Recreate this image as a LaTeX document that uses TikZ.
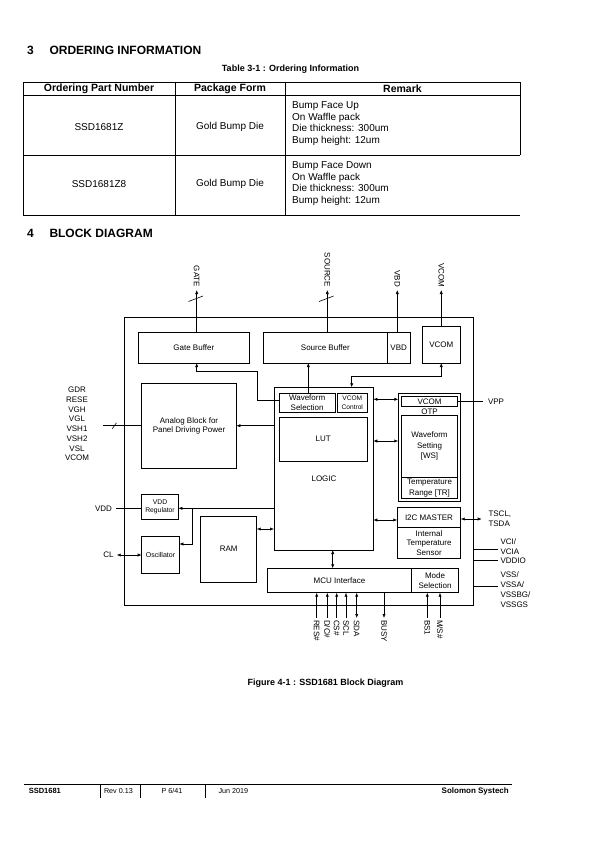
\documentclass[tikz,border=0pt]{standalone}
\usepackage{fontspec}
\setmainfont{Liberation Sans}
\usetikzlibrary{arrows.meta}
\begin{document}
\begin{tikzpicture}[x=1pt,y=-1pt,
  blk/.style={draw, line width=0.6pt, inner sep=0pt, outer sep=0pt, align=center, font=\fontsize{8}{9.7}\selectfont},
  con/.style={line width=0.6pt},
  arr/.style={con,-{Latex[length=4pt,width=3.2pt]}},
  darr/.style={con,{Latex[length=4pt,width=3.2pt]}-{Latex[length=4pt,width=3.2pt]}},
  txt/.style={inner sep=0pt, outer sep=0pt, font=\fontsize{8}{9.7}\selectfont},
  small/.style={inner sep=0pt, outer sep=0pt, align=center, font=\fontsize{6.8}{8.3}\selectfont},
  tline/.style={line width=0.9pt},
  head/.style={inner sep=0pt, anchor=west, font=\fontsize{12}{14}\bfseries\selectfont},
  thead/.style={inner sep=0pt, font=\fontsize{10.5}{12}\bfseries\selectfont},
  tbody/.style={inner sep=0pt, font=\fontsize{10}{11.6}\selectfont},
]
\path[use as bounding box] (0,0) rectangle (595,842);

% ---------- Section 3 ----------
\node[head] (h3n) at (27,50) {3};
\node[head] (h3t) at (49.3,50) {ORDERING INFORMATION};
\node[inner sep=0pt, font=\fontsize{9}{11}\bfseries\selectfont] (tcap) at (290.5,69) {Table 3-1 : Ordering Information};

\draw[tline] (23,82) -- (520,82);
\draw[tline] (23,95) -- (520,95);
\draw[tline] (23,155) -- (520,155);
\draw[tline] (23,215) -- (520,215);
\draw[tline] (23,82) -- (23,215);
\draw[tline] (175,82) -- (175,215);
\draw[tline] (285,82) -- (285,215);
\draw[tline] (520,82) -- (520,155);

\node[thead] (th1) at (99,88.5) {Ordering Part Number};
\node[thead] (th2) at (230,88.5) {Package Form};
\node[thead] (th3) at (402.5,88.5) {Remark};

\node[tbody] (r1a) at (99,127) {SSD1681Z};
\node[tbody] (r1b) at (230,127) {Gold Bump Die};
\node[tbody, anchor=west, align=left] (r1c) at (292,123.5) {Bump Face Up\\On Waffle pack\\Die thickness: 300um\\Bump height: 12um};
\node[tbody] (r2a) at (99,184) {SSD1681Z8};
\node[tbody] (r2b) at (230,184) {Gold Bump Die};
\node[tbody, anchor=west, align=left] (r2c) at (292,183.5) {Bump Face Down\\On Waffle pack\\Die thickness: 300um\\Bump height: 12um};

% ---------- Section 4 ----------
\node[head] (h4n) at (27,233) {4};
\node[head] (h4t) at (49.3,233) {BLOCK DIAGRAM};

% outer chip
\node[draw, line width=0.6pt, inner sep=0pt, minimum width=349.5pt, minimum height=288pt] (chip) at (298.75,461) {};

% blocks
\node[blk, minimum width=111pt, minimum height=30.3pt] (gate) at (193.8,347.85) {Gate Buffer};
\node[blk, minimum width=124pt, minimum height=30.3pt] (srcbuf) at (325.3,347.85) {Source Buffer};
\node[blk, minimum width=22.7pt, minimum height=30.3pt] (vbd) at (398.65,347.85) {VBD};
\node[blk, minimum width=37.5pt, minimum height=36.3pt] (vcombox) at (441.25,344.85) {VCOM};
\node[blk, minimum width=94.6pt, minimum height=85pt] (analog) at (189,425.8) {Analog Block for\\Panel Driving Power};
\node[blk, minimum width=99.3pt, minimum height=162.7pt] (logic) at (323.65,468.65) {};
\node[txt] (logictxt) at (324,478.3) {LOGIC};
\node[blk, minimum width=55.7pt, minimum height=19pt] (wfsel) at (307.15,402.8) {Waveform\\Selection};
\node[blk, minimum width=30pt, minimum height=19pt, font=\fontsize{6.6}{8.5}\selectfont] (vcomctl) at (352.3,402.8) {VCOM\\Control};
\node[blk, minimum width=88pt, minimum height=43.7pt] (lut) at (323.3,439.15) {LUT};

\node[blk, minimum width=62.4pt, minimum height=107.7pt] (otp) at (429.5,447.15) {};
\node[blk, minimum width=55.6pt, minimum height=9.3pt] (otpvcom) at (429.5,401.35) {VCOM};
\node[txt] (otplbl) at (429.5,411.3) {OTP};
\node[blk, minimum width=55.6pt, minimum height=62.3pt, font=\fontsize{8}{10.7}\selectfont] (ws) at (429.5,446.15) {Waveform\\Setting\\{}[WS]};
\node[blk, minimum width=55.6pt, minimum height=21pt, font=\fontsize{8}{10.6}\selectfont] (tr) at (429.5,487.8) {Temperature\\Range [TR]};

\node[blk, minimum width=63.4pt, minimum height=20.4pt] (i2c) at (429,517.5) {I2C MASTER};
\node[blk, minimum width=63.4pt, minimum height=30.6pt, font=\fontsize{8}{9.2}\selectfont] (its) at (429,543) {Internal\\Temperature\\Sensor};

\node[blk, minimum width=36.6pt, minimum height=25pt, font=\fontsize{6.8}{8.3}\selectfont] (vddreg) at (160,506.8) {VDD\\Regulator};
\node[blk, minimum width=37.6pt, minimum height=36.6pt, font=\fontsize{7}{8.3}\selectfont] (osc) at (160.5,555) {Oscillator};
\node[blk, minimum width=56pt, minimum height=66.3pt] (ram) at (228.7,549.15) {RAM};
\node[blk, minimum width=144.4pt, minimum height=24.4pt] (mcu) at (339.5,580.5) {MCU Interface};
\node[blk, minimum width=46.6pt, minimum height=24.4pt] (mode) at (435,580.5) {Mode\\Selection};

% top outputs
\coordinate (tgate) at (196.7,290);
\coordinate (tsrc) at (327.3,290);
\coordinate (tvbd) at (397.3,290);
\coordinate (tvcom) at (441.25,290);
\draw[arr] (tgate |- gate.north) -- (tgate);
\draw[arr] (tsrc |- srcbuf.north) -- (tsrc);
\draw[arr] (tvbd |- vbd.north) -- (tvbd);
\draw[arr] (vcombox.north) -- (tvcom);
\draw[con] (188.5,301.5) -- (203,296);
\draw[con] (319.1,301.5) -- (333.6,296);
\node[txt, rotate=-90, anchor=east] (lgate) at (196.7,287) {GATE};
\node[txt, rotate=-90, anchor=east] (lsrc) at (327.3,287) {SOURCE};
\node[txt, rotate=-90, anchor=east] (lvbd) at (397.3,287) {VBD};
\node[txt, rotate=-90, anchor=east] (lvcom) at (441.25,287) {VCOM};

% internal connections
\draw[arr] (wfsel.west |- 0,400) -- (257.7,400) -- (257.7,371) -- (tgate |- 0,371) -- (tgate |- gate.south);
\draw[arr] (308.3,0 |- wfsel.north) -- (308.3,0 |- srcbuf.south);
\draw[darr] (vcombox.south) -- (vcombox.south |- 0,376) -- (351.7,376) -- (351.7,0 |- logic.north);
\draw[darr] (logic.east |- 0,399.3) -- (otp.west |- 0,399.3);
\draw[darr] (logic.east |- 0,441) -- (otp.west |- 0,441);
\draw[darr] (logic.east |- 0,520) -- (i2c.west |- 0,520);
\draw[arr] (logic.west |- 0,425.7) -- (analog.east |- 0,425.7);
\draw[arr] (logic.west |- 0,508.3) -- (vddreg.east |- 0,508.3);
\draw[arr] (192.7,508.3) -- (192.7,544) -- (osc.east |- 0,544);
\draw[darr] (ram.east |- 0,529) -- (logic.west |- 0,529);
\draw[darr] (332.7,0 |- logic.south) -- (332.7,0 |- mcu.north);

% left side
\coordinate (busend) at (103.3,425.7);
\draw[con] (busend) -- (analog.west |- busend);
\draw[con] (112.3,428.7) -- (116.5,422.7);
\node[txt, align=center, font=\fontsize{8}{9.7}\selectfont] (lbus) at (77,424) {GDR\\RESE\\VGH\\VGL\\VSH1\\VSH2\\VSL\\VCOM};
\coordinate (vddend) at (116,508.3);
\draw[con] (vddend) -- (vddreg.west |- vddend);
\node[txt, anchor=east] (lvdd) at (112,508.3) {VDD};
\coordinate (clend) at (116.7,555);
\draw[darr] (clend) -- (osc.west);
\node[txt, anchor=east] (lcl) at (113.5,555) {CL};

% right side
\coordinate (vppend) at (483.3,401.35);
\draw[con] (otpvcom.east) -- (vppend);
\node[txt, anchor=west] (lvpp) at (488,401.35) {VPP};
\coordinate (tsclend) at (481.7,519);
\draw[darr] (i2c.east |- tsclend) -- (tsclend);
\node[txt, anchor=west, align=left, font=\fontsize{8}{10}\selectfont] (ltscl) at (488.5,519) {TSCL,\\TSDA};
\coordinate (vciend) at (498.3,549.3);
\coordinate (vddioend) at (498.3,560.7);
\coordinate (vssend) at (498.3,586.7);
\draw[con] (chip.east |- vciend) -- (vciend);
\draw[con] (chip.east |- vddioend) -- (vddioend);
\draw[con] (chip.east |- vssend) -- (vssend);
\node[txt, anchor=west, align=left, font=\fontsize{8}{10}\selectfont] (lvci) at (500.5,546.7) {VCI/\\VCIA};
\node[txt, anchor=west] (lvddio) at (500.5,560.7) {VDDIO};
\node[txt, anchor=west, align=left, font=\fontsize{8}{10}\selectfont] (lvss) at (500.5,589.5) {VSS/\\VSSA/\\VSSBG/\\VSSGS};

% bottom pins
\coordinate (pres) at (316.7,618);
\coordinate (pdc) at (327.3,618);
\coordinate (pcs) at (336.7,618);
\coordinate (pscl) at (346,618);
\coordinate (psda) at (356.7,618);
\coordinate (pbusy) at (384,618);
\coordinate (pbs) at (427.3,618);
\coordinate (pms) at (440,618);
\draw[arr] (pres) -- (pres |- mcu.south);
\draw[arr] (pdc) -- (pdc |- mcu.south);
\draw[arr] (pcs) -- (pcs |- mcu.south);
\draw[arr] (pscl) -- (pscl |- mcu.south);
\draw[darr] (psda) -- (psda |- mcu.south);
\draw[arr] (pbusy |- mcu.south) -- (pbusy);
\draw[arr] (pbs) -- (pbs |- mode.south);
\draw[arr] (pms) -- (pms |- mode.south);
\node[txt, rotate=-90, anchor=west] (lres) at (316.7,620) {RES\#};
\node[txt, rotate=-90, anchor=west] (ldc) at (327.3,620) {D/C\#};
\node[txt, rotate=-90, anchor=west] (lcs) at (336.7,620) {CS\#};
\node[txt, rotate=-90, anchor=west] (lscl) at (346,620) {SCL};
\node[txt, rotate=-90, anchor=west] (lsda) at (356.7,620) {SDA};
\node[txt, rotate=-90, anchor=west] (lbusy) at (384,620) {BUSY};
\node[txt, rotate=-90, anchor=west] (lbs) at (427.3,620) {BS1};
\node[txt, rotate=-90, anchor=west] (lms) at (440,620) {M/S\#};

% caption
\node[inner sep=0pt, font=\fontsize{9}{11}\bfseries\selectfont] (fcap) at (325.5,682.7) {Figure 4-1 : SSD1681 Block Diagram};

% footer
\draw[line width=0.6pt] (24,784) -- (512,784);
\draw[line width=0.5pt] (100.3,784) -- (100.3,798);
\draw[line width=0.5pt] (140,784) -- (140,798);
\draw[line width=0.5pt] (205,784) -- (205,798);
\node[inner sep=0pt, anchor=west, font=\fontsize{7.5}{9}\bfseries\selectfont] (f1) at (28.6,791) {SSD1681};
\node[inner sep=0pt, anchor=west, font=\fontsize{7.2}{9}\selectfont] (f2) at (103.8,791) {Rev 0.13};
\node[inner sep=0pt, anchor=west, font=\fontsize{7.2}{9}\selectfont] (f3) at (161.4,791) {P 6/41};
\node[inner sep=0pt, anchor=west, font=\fontsize{7.2}{9}\selectfont] (f4) at (218.3,791) {Jun 2019};
\node[inner sep=0pt, anchor=east, font=\fontsize{8}{9}\bfseries\selectfont] (f5) at (509,791) {Solomon Systech};
\end{tikzpicture}
\end{document}
